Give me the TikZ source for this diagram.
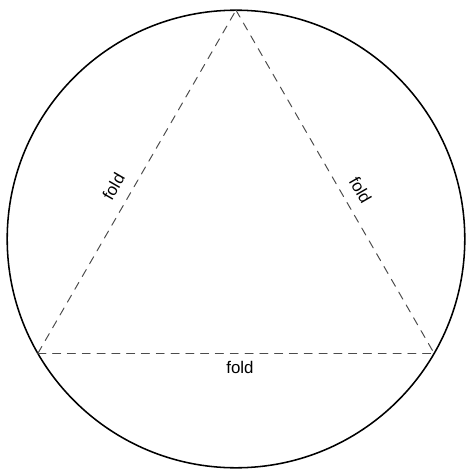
\documentclass[tikz,border=0pt]{standalone}
\usepackage{fontspec}
\setmainfont{Liberation Sans}
\usetikzlibrary{calc}

\begin{document}
\begin{tikzpicture}[line cap=round,
  foldline/.style={gray!60!black,line width=0.7pt,dash pattern=on 0.2cm off 0.17cm},
  foldlabel/.style={text=black,font=\fontsize{12}{14}\selectfont,inner sep=2pt}]
\useasboundingbox (-5.9,-5.825) rectangle (5.825,5.975);
\draw[black,line width=1.1pt] (0,0) circle (5.72cm);
\coordinate (top) at (90:5.72);
\coordinate (left) at (210:5.72);
\coordinate (right) at (330:5.72);
\draw[foldline] (left) -- node[foldlabel,sloped,above=6pt,pos=0.46] {fold} (top);
\draw[foldline] (top) -- node[foldlabel,sloped,above=6pt,pos=0.55] {fold} (right);
\draw[foldline] (left) -- node[foldlabel,below=3pt,pos=0.51] {fold} (right);
\end{tikzpicture}
\end{document}
